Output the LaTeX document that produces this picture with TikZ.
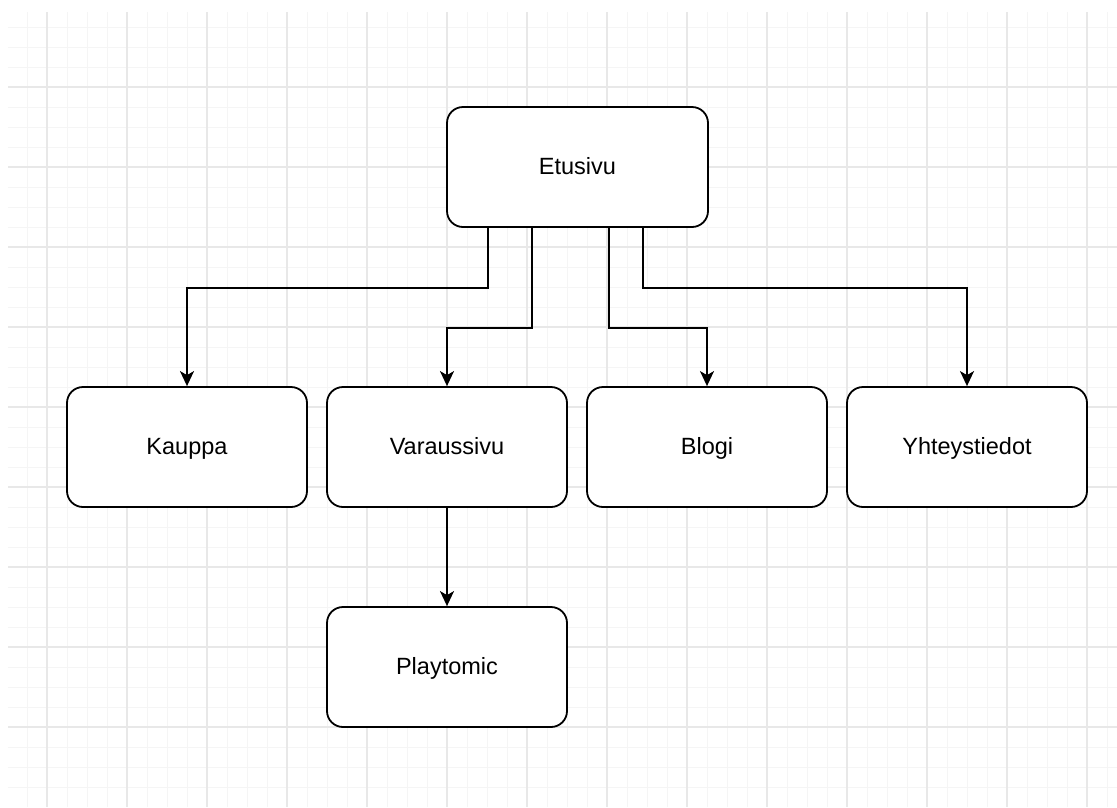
\documentclass[tikz,border=0pt]{standalone}
\usepackage{fontspec}
\setmainfont{Liberation Sans}
\usetikzlibrary{arrows.meta}

\begin{document}
\begin{tikzpicture}[x=20pt,y=-20pt,
        page/.style = {rectangle,
            draw,
            line width = 1.8pt,
            rounded corners = 16pt,
            fill = white,
            minimum width = 240pt,
            minimum height = 120pt,
            text height = 18pt,
            text depth = 4pt,
            font = \fontsize{23.5}{28}\selectfont,
        },
        link/.style = {line width = 1.8pt,
            -{Stealth[length=15pt,width=14pt,inset=4pt]},
        },
        minorgrid/.style = {draw = black!4, line width = 1pt},
        majorgrid/.style = {draw = black!9, line width = 1.2pt}]

        \useasboundingbox (-0.35,-0.35) rectangle (55.5,40);

        % Grid
        \foreach \x in {1,...,55}
            \draw[minorgrid] (\x,0.25) -- (\x,40);
        \foreach \y in {1,...,39}
            \draw[minorgrid] (0.05,\y) -- (55.5,\y);
        \foreach \x in {2,6,...,54}
            \draw[majorgrid] (\x,0.25) -- (\x,40);
        \foreach \y in {4,8,...,36}
            \draw[majorgrid] (0.05,\y) -- (55.5,\y);

        % Pages
        \node[page, minimum width = 261pt] (etusivu) at (28.525,8) {Etusivu};

        \node[page] (kauppa) at (9,22) {Kauppa};
        \node[page] (varaussivu) at (22,22) {Varaussivu};
        \node[page] (blogi) at (35,22) {Blogi};
        \node[page] (yhteystiedot) at (48,22) {Yhteystiedot};

        \node[page] (playtomic) at (22,33) {Playtomic};

        % Links
        \draw[link] ([xshift=-89.5pt]etusivu.south) -- ++(0,3) -| (kauppa.north);
        \draw[link] ([xshift=-45.5pt]etusivu.south) -- ++(0,5) -| (varaussivu.north);
        \draw[link] ([xshift=31.5pt]etusivu.south) -- ++(0,5) -| (blogi.north);
        \draw[link] ([xshift=65.5pt]etusivu.south) -- ++(0,3) -| (yhteystiedot.north);

        \draw[link] (varaussivu) -- (playtomic);

    \end{tikzpicture}
\end{document}
